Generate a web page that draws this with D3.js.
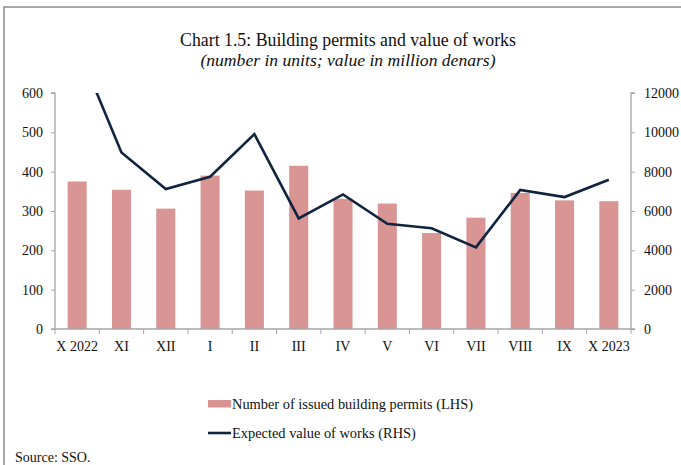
<!DOCTYPE html>
<html><head><meta charset="utf-8">
<script src="https://cdn.jsdelivr.net/npm/d3@7"></script>
<style>
body{margin:0;background:#fff;}
svg{display:block;font-family:"Liberation Serif","Times New Roman",serif;}
</style></head>
<body><svg id="c" width="681" height="465"></svg>
<script>
const categories = ["X 2022","XI","XII","I","II","III","IV","V","VI","VII","VIII","IX","X 2023"];
const permits = [375,354,306,390,352,415,331,319,244,283,346,327,325];
const valueOfWorks = [14400,8980,7120,7740,9910,5620,6840,5350,5120,4150,7070,6710,7590];
const leftTicks = [0,100,200,300,400,500,600];
const rightTicks = [0,2000,4000,6000,8000,10000,12000];
const seriesNames = ["Number of issued building permits (LHS)","Expected value of works (RHS)"];

const svg = d3.select("#c");
const W=681,H=465;
const m={l:55,r:631,t:93,b:329};
const barColor="#d99594", lineColor="#10243f", axisColor="#a6a6a6";

// frame
svg.append("path").attr("d",`M4,${H} L4,7 L${W},7`).attr("fill","none").attr("stroke","#8c8c8c").attr("stroke-width",1.5);

// title
svg.append("text").attr("x",348).attr("y",46).attr("text-anchor","middle").attr("font-size",17.8).attr("fill","#111").text("Chart 1.5: Building permits and value of works");
svg.append("text").attr("x",348).attr("y",66).attr("text-anchor","middle").attr("font-size",17.6).attr("font-style","italic").attr("fill","#111").text("(number in units; value in million denars)");

const x=d3.scaleBand().domain(categories).range([m.l,m.r]).paddingInner(0).paddingOuter(0);
const yL=d3.scaleLinear().domain([0,600]).range([m.b,m.t]);
const yR=d3.scaleLinear().domain([0,12000]).range([m.b,m.t]);

// bars
const bw=x.bandwidth()*0.43;
svg.append("g").selectAll("rect").data(permits).join("rect")
 .attr("x",(d,i)=>x(categories[i])+x.bandwidth()/2-bw/2)
 .attr("y",d=>yL(d)).attr("width",bw).attr("height",d=>yL(0)-yL(d)).attr("fill",barColor);

// axes
const gL=svg.append("g").attr("transform",`translate(${m.l},0)`).call(d3.axisLeft(yL).tickValues(leftTicks).tickSize(4).tickPadding(8).tickFormat(d3.format("d")));
const gR=svg.append("g").attr("transform",`translate(${m.r},0)`).call(d3.axisRight(yR).tickValues(rightTicks).tickSize(4).tickPadding(9).tickFormat(d3.format("d")));
const gX=svg.append("g").attr("transform",`translate(0,${m.b})`).call(d3.axisBottom(x).tickSize(0).tickPadding(12));
// category boundary ticks
gX.selectAll(".bt").data(d3.range(categories.length+1)).join("line").attr("class","bt")
 .attr("x1",i=>m.l+i*x.bandwidth()).attr("x2",i=>m.l+i*x.bandwidth()).attr("y1",0).attr("y2",5).attr("stroke",axisColor);
[gL,gR,gX].forEach(g=>{
  g.select(".domain").attr("stroke",axisColor).attr("stroke-width",1.3);
  g.selectAll(".tick line").attr("stroke",axisColor);
  g.selectAll("text").attr("font-size",14).attr("fill","#111").attr("font-family","Liberation Serif, serif");
});
gL.select(".domain").attr("d",`M-4,${m.t}H0V${m.b}H-4`);
gR.select(".domain").attr("d",`M4,${m.t}H0V${m.b}H4`);
gX.select(".domain").attr("d",`M${m.l},0H${m.r}`);

// line (clipped to plot area)
svg.append("clipPath").attr("id","clip").append("rect").attr("x",m.l).attr("y",m.t).attr("width",m.r-m.l).attr("height",m.b-m.t);
const line=d3.line().x((d,i)=>x(categories[i])+x.bandwidth()/2).y(d=>yR(d));
svg.append("path").datum(valueOfWorks).attr("d",line).attr("fill","none").attr("stroke",lineColor).attr("stroke-width",2.6).attr("stroke-linejoin","miter").attr("clip-path","url(#clip)");

// legend
const lg=svg.append("g");
lg.append("rect").attr("x",208).attr("y",400).attr("width",23).attr("height",7.5).attr("fill",barColor);
lg.append("text").attr("x",232).attr("y",408.5).attr("font-size",14.4).attr("fill","#111").text(seriesNames[0]);
lg.append("line").attr("x1",208).attr("x2",231).attr("y1",433).attr("y2",433).attr("stroke",lineColor).attr("stroke-width",2.6);
lg.append("text").attr("x",232).attr("y",438).attr("font-size",14.4).attr("fill","#111").text(seriesNames[1]);

svg.append("text").attr("x",15).attr("y",462).attr("font-size",14).attr("fill","#111").text("Source:  SSO.");
</script></body></html>
